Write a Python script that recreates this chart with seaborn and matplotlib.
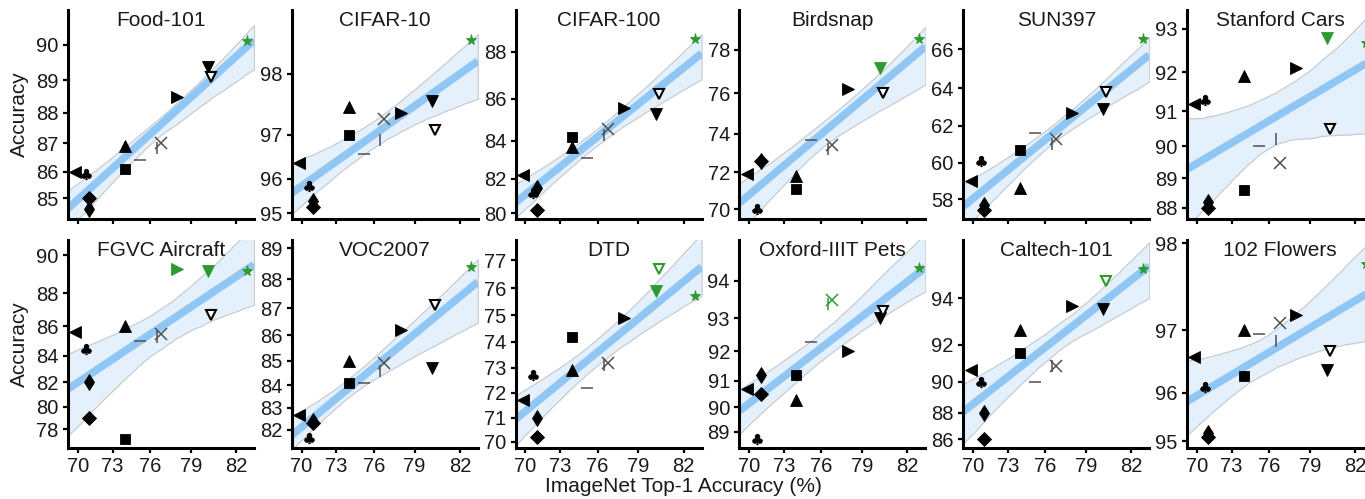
import numpy as np
import pandas as pd
import matplotlib
matplotlib.use("Agg")
import matplotlib.pyplot as plt
import seaborn as sns

# ---------------- data ----------------
datasets = ["Food-101", "CIFAR-10", "CIFAR-100", "Birdsnap", "SUN397", "Stanford Cars",
            "FGVC Aircraft", "VOC2007", "DTD", "Oxford-IIIT Pets", "Caltech-101", "102 Flowers"]

# one value per model (13 models), ImageNet top-1 accuracy (%)
imagenet_top1 = [69.8, 70.7, 71.0, 71.0, 74.0, 74.0, 75.2, 76.5, 76.8, 78.0, 80.2, 80.4, 82.7]

food101 = [86.0, 85.9, 84.6, 85.0, 86.1, 86.9, 86.4, 86.85, 87.0, 88.5, 89.4, 89.1, 90.1]
cifar10 = [96.4, 95.8, 95.4, 95.2, 97.0, 97.5, 96.6, 96.9, 97.3, 97.4, 97.6, 97.1, 98.4]
cifar100 = [82.2, 81.2, 81.5, 80.2, 84.2, 83.7, 83.1, 84.3, 84.6, 85.6, 85.3, 86.2, 88.5]
birdsnap = [71.9, 70.0, 72.6, 72.6, 71.1, 71.8, 73.7, 73.2, 73.4, 76.2, 77.2, 76.0, 78.5]
sun397 = [59.0, 60.1, 57.7, 57.4, 60.7, 58.6, 61.6, 61.0, 61.3, 62.7, 62.9, 63.8, 66.5]
stanford_cars = [91.2, 91.3, 88.2, 88.0, 88.6, 91.9, 90.0, 90.2, 89.5, 92.1, 92.8, 90.5, 92.7]
fgvc_aircraft = [85.6, 84.5, 82.0, 79.0, 77.1, 86.0, 85.0, 85.3, 85.5, 89.3, 89.2, 86.7, 89.2]
voc2007 = [82.7, 81.6, 82.4, 82.3, 84.1, 85.0, 84.1, 84.6, 84.9, 86.2, 84.7, 87.1, 88.4]
dtd = [71.7, 72.7, 71.0, 70.2, 74.2, 72.9, 72.2, 73.1, 73.2, 74.9, 75.9, 76.7, 75.7]
oxford_pets = [90.7, 88.7, 91.2, 90.5, 91.2, 90.3, 92.3, 93.4, 93.5, 92.0, 93.0, 93.2, 94.3]
caltech101 = [90.7, 90.0, 88.0, 86.0, 91.6, 92.7, 90.0, 90.9, 90.9, 93.7, 93.6, 94.6, 95.0]
flowers102 = [96.6, 96.1, 95.2, 95.1, 96.3, 97.0, 96.95, 96.85, 97.1, 97.2, 96.4, 96.7, 97.8]

all_values = [food101, cifar10, cifar100, birdsnap, sun397, stanford_cars,
              fgvc_aircraft, voc2007, dtd, oxford_pets, caltech101, flowers102]

# models highlighted in green in each panel (indices into the model list)
green_models = [[12], [12], [12], [10, 12], [12], [10, 12],
                [9, 10, 12], [12], [10, 11, 12], [7, 8, 12], [11, 12], [12]]

x_ticks = [70, 73, 76, 79, 82]
y_ticks = [[85, 86, 87, 88, 89, 90], [95, 96, 97, 98], [80, 82, 84, 86, 88],
           [70, 72, 74, 76, 78], [58, 60, 62, 64, 66], [88, 89, 90, 91, 92, 93],
           [78, 80, 82, 84, 86, 88, 90], [82, 83, 84, 85, 86, 87, 88, 89],
           [70, 71, 72, 73, 74, 75, 76, 77], [89, 90, 91, 92, 93, 94],
           [86, 88, 90, 92, 94], [95, 96, 97, 98]]

# ---------------- styles / layout ----------------
x_limits = (69.13, 83.09)
y_limits = [(84.19, 90.91), (94.82, 98.69), (79.66, 89.55), (69.46, 79.75),
            (56.91, 67.97), (87.60, 93.40), (76.21, 90.70), (81.14, 89.25),
            (69.74, 77.70), (88.28, 94.93), (85.29, 95.84), (94.85, 98.03)]

# marker style per model: (marker, size, filled, thin-line marker)
marker_styles = [("<", 8.5, True, False), (r"$\clubsuit$", 7.5, True, False),
                 ("d", 8.5, True, False), ("D", 7.2, True, False),
                 ("s", 7.2, True, False), ("^", 8.0, True, False),
                 ("_", 8.0, True, True), ("|", 9.0, True, True),
                 ("x", 8.0, True, True), (">", 8.5, True, False),
                 ("v", 8.5, True, False), ("v", 7.0, False, False),
                 ("*", 8.0, True, False)]

GREEN = "#2f9a2f"
BLACK = "#000000"
THIN = "#505050"
LINE_BLUE = "#8fc6f3"
BAND_BLUE = "#e4f0fb"


def logit(p):
    p = np.asarray(p, dtype=float) / 100.0
    return np.log(p / (1 - p))


sns.set_theme(style="white")
plt.rcParams["font.family"] = ["Liberation Sans", "DejaVu Sans"]
plt.rcParams["mathtext.fontset"] = "dejavusans"

W, H = 1365, 499
fig = plt.figure(figsize=(W / 100, H / 100), dpi=100)

lefts = [68 + 223.8 * i for i in range(6)]
panel_w = 186
rows = [(10, 219), (240, 448)]

for k, name in enumerate(datasets):
    r, c = divmod(k, 6)
    top, bot = rows[r]
    ax = fig.add_axes([lefts[c] / W, 1 - bot / H, panel_w / W, (bot - top) / H])

    lx = logit(imagenet_top1)
    ly = logit(all_values[k])
    df = pd.DataFrame({"x": lx, "y": ly})

    ax.set_xlim(logit(x_limits[0]), logit(x_limits[1]))
    ax.set_ylim(logit(y_limits[k][0]), logit(y_limits[k][1]))

    sns.regplot(data=df, x="x", y="y", ax=ax, scatter=False, truncate=False,
                ci=95, n_boot=2000, seed=3, color=LINE_BLUE,
                line_kws={"lw": 5.5, "color": LINE_BLUE, "solid_capstyle": "butt", "zorder": 2})
    for coll in ax.collections:
        coll.set_facecolor(BAND_BLUE)
        coll.set_edgecolor("#c4c8cc")
        coll.set_linewidth(0.8)
        coll.set_alpha(1)
        coll.set_zorder(1)

    for i, (mk, ms, filled, thin) in enumerate(marker_styles):
        col = GREEN if i in green_models[k] else (THIN if thin else BLACK)
        kw = dict(marker=mk, markersize=ms, linestyle="none", zorder=5)
        if thin:
            kw.update(color=col, markeredgewidth=1.1)
        elif filled:
            kw.update(color=col, markeredgewidth=0.6, markeredgecolor=col)
        else:
            kw.update(markerfacecolor="white", markeredgecolor=col, markeredgewidth=1.5)
        ax.plot([lx[i]], [ly[i]], **kw)

    ax.set_xlim(logit(x_limits[0]), logit(x_limits[1]))
    ax.set_ylim(logit(y_limits[k][0]), logit(y_limits[k][1]))

    ax.set_xticks(logit(x_ticks))
    if r == 1:
        ax.set_xticklabels([str(t) for t in x_ticks])
    else:
        ax.set_xticklabels([])
    ax.set_yticks(logit(y_ticks[k]))
    ax.set_yticklabels([str(t) for t in y_ticks[k]])
    ax.set_xlabel("")
    ax.set_ylabel("")

    for s in ["top", "right"]:
        ax.spines[s].set_visible(False)
    for s in ["left", "bottom"]:
        ax.spines[s].set_linewidth(2.2)
        ax.spines[s].set_color("black")
    ax.tick_params(axis="both", direction="out", length=3.8, width=1.6, color="black",
                   labelsize=14.5, labelcolor="#1a1a1a", left=True, bottom=True)
    ax.tick_params(axis="y", pad=3)
    ax.tick_params(axis="x", pad=2.5)
    ax.set_facecolor("none")

    ax.text(0.5, 0.995, name, transform=ax.transAxes, ha="center", va="top",
            fontsize=15, color="#1a1a1a", zorder=6)

fig.text(19.5 / W, 1 - 114.5 / H, "Accuracy", rotation=90, ha="center", va="center",
         fontsize=15, color="#1a1a1a")
fig.text(19.5 / W, 1 - 344 / H, "Accuracy", rotation=90, ha="center", va="center",
         fontsize=15, color="#1a1a1a")
fig.text(683 / W, 1 - 487 / H, "ImageNet Top-1 Accuracy (%)", ha="center", va="center",
         fontsize=15, color="#1a1a1a")

fig.savefig("out.png", dpi=100)
